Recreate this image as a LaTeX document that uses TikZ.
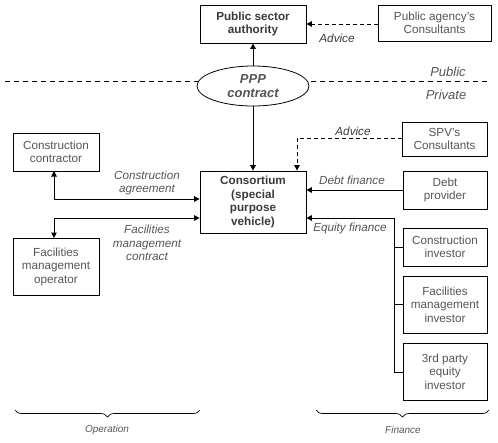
\documentclass[tikz,border=0pt]{standalone}
\usepackage{fontspec}
\setmainfont{Liberation Sans}
\usetikzlibrary{arrows.meta,shapes.geometric,decorations.pathreplacing}
\definecolor{txt}{HTML}{555555}
\definecolor{btxt}{HTML}{3A3A3A}
\begin{document}
\begin{tikzpicture}[x=1pt,y=-1pt,
  box/.style={draw=black,line width=0.8pt,fill=white,align=center,text=txt,
    inner sep=1pt,font=\fontsize{11.7}{13.5}\selectfont},
  bbox/.style={box,text=btxt,font=\fontsize{11.7}{13.5}\selectfont\bfseries},
  lbl/.style={align=center,text=txt,inner sep=0pt,font=\fontsize{11.7}{13.5}\selectfont\itshape},
  conn/.style={line width=1pt,draw=black},
  tip/.style={-{Triangle[length=5.5pt,width=5.5pt]}},
  dtip/.style={{Triangle[length=5.5pt,width=5.5pt]}-{Triangle[length=5.5pt,width=5.5pt]}},
  adv/.style={line width=0.9pt,dash pattern=on 4pt off 3pt}]
\useasboundingbox (0,0) rectangle (498,442);
% public/private divider
\coordinate (dl) at (5,81);
\coordinate (dr) at (490,81);
\draw[line width=0.9pt,dash pattern=on 5pt off 4pt] (dl) -- (dr);
\node[text=txt,font=\fontsize{13}{15}\selectfont\itshape] (pub) at (448,72) {Public};
\node[text=txt,font=\fontsize{13}{15}\selectfont\itshape] (priv) at (446,95) {Private};
% nodes
\node[bbox,minimum width=106pt,minimum height=38pt] (psa) at (253,24) {Public sector\\authority};
\node[box,minimum width=113pt,minimum height=36pt] (pac) at (434.5,23) {Public agency's\\Consultants};
\node[ellipse,draw=black,line width=0.8pt,fill=white,minimum width=112pt,minimum height=40pt,
  inner sep=0pt,align=center,text=txt,font=\fontsize{13}{14.5}\selectfont\bfseries\itshape] (ppp) at (253,86) {PPP\\contract};
\node[box,minimum width=86pt,minimum height=38pt] (cc) at (56,152) {Construction\\contractor};
\node[bbox,minimum width=106pt,minimum height=62pt] (cons) at (253,202) {Consortium\\(special\\purpose\\vehicle)};
\node[box,minimum width=86pt,minimum height=57pt] (fmo) at (56,266.5) {Facilities\\management\\operator};
\node[box,minimum width=85pt,minimum height=34pt] (spv) at (444.5,139) {SPV's\\Consultants};
\node[box,minimum width=84pt,minimum height=38pt] (debt) at (445,190) {Debt\\provider};
\node[box,minimum width=84pt,minimum height=38pt] (ci) at (445,247) {Construction\\investor};
\node[box,minimum width=84pt,minimum height=57pt] (fmi) at (445,304.5) {Facilities\\management\\investor};
\node[box,minimum width=84pt,minimum height=57pt] (tpi) at (445,371.5) {3rd party\\equity\\investor};
% coordinates
\coordinate (ccb) at (54,171);
\coordinate (cca) at (54,199);
\coordinate (fma) at (54,218);
\coordinate (fmb) at (54,238);
\coordinate (spvc) at (297,138);
\coordinate (eqt) at (394,218);
\coordinate (eqb) at (394,372);
% connectors
\draw[conn,tip] (ppp.north) -- (psa.south);
\draw[adv,tip] (pac.west |- 0,24) -- (psa.east |- 0,24);
\draw[conn,tip] (ppp.south) -- (cons.north);
\draw[adv,tip] (spv.west |- spvc) -- (spvc) -- (spvc |- cons.north);
\draw[conn,dtip] (ccb) -- (cca) -- (cons.west |- cca);
\draw[conn,dtip] (cons.west |- fma) -- (fma) -- (fmb);
\draw[conn,tip] (debt.west) -- (cons.east |- debt.west);
\draw[conn,tip] (eqb) -- (eqt) -- (cons.east |- eqt);
\draw[conn] (eqt |- ci.west) -- (ci.west);
\draw[conn] (eqt |- fmi.west) -- (fmi.west);
\draw[conn] (eqb) -- (tpi.west |- eqb);
% labels
\node[lbl,text=btxt] (adv1) at (337,38) {Advice};
\node[lbl,text=btxt] (adv2) at (353,131) {Advice};
\node[lbl] (cal) at (147,183) {Construction\\agreement};
\node[lbl] (fml) at (147,243) {Facilities\\management\\contract};
\node[lbl] (dfl) at (352,180) {Debt finance};
\node[lbl] (efl) at (350,228) {Equity finance};
% braces
\coordinate (ob1) at (15,410);
\coordinate (ob2) at (200,410);
\coordinate (fb1) at (316,410);
\coordinate (fb2) at (489,410);
\draw[line width=0.7pt,decorate,decoration={brace,mirror,amplitude=7pt}] (ob1) -- (ob2);
\draw[line width=0.7pt,decorate,decoration={brace,mirror,amplitude=7pt}] (fb1) -- (fb2);
\node[text=txt,font=\fontsize{10}{12}\selectfont\itshape] (opl) at (107,430) {Operation};
\node[text=txt,font=\fontsize{10}{12}\selectfont\itshape] (finl) at (403,430) {Finance};
\end{tikzpicture}
\end{document}
